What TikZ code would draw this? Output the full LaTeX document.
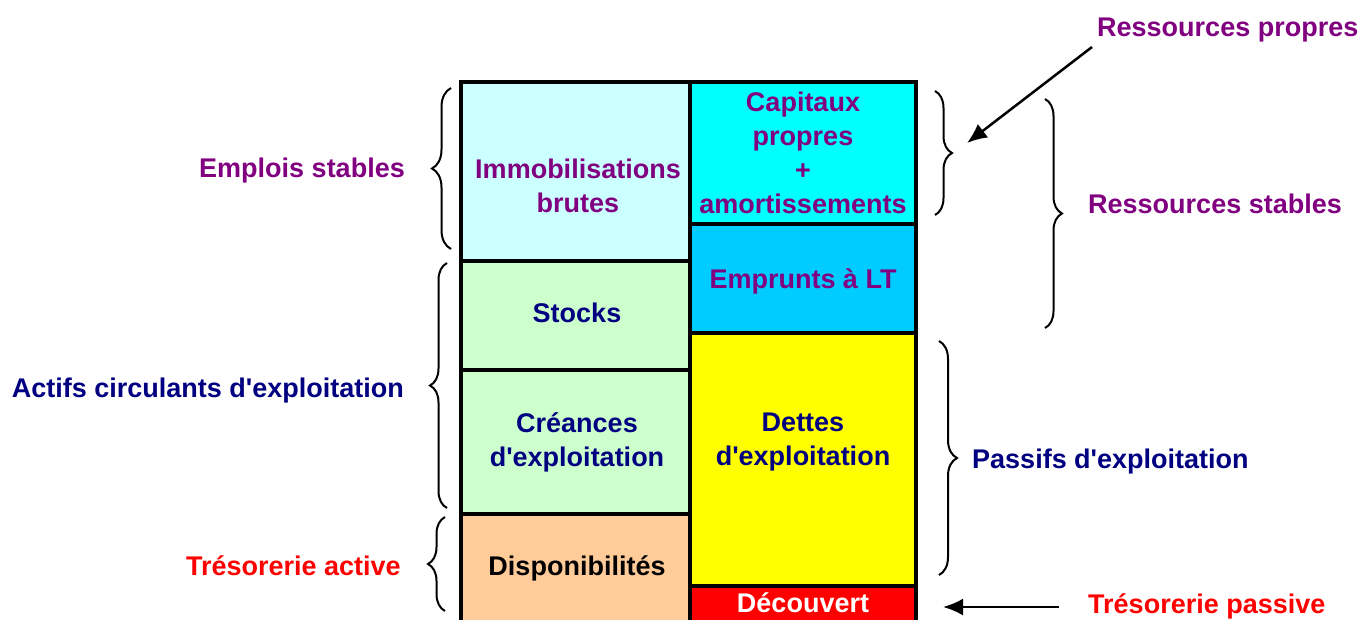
\documentclass[tikz,border=0pt]{standalone}
\usepackage{fontspec}
\setmainfont{Liberation Sans}
\usetikzlibrary{decorations.pathreplacing,arrows.meta}
\definecolor{cimmo}{HTML}{CCFFFF}
\definecolor{ccap}{HTML}{00FFFF}
\definecolor{cemp}{HTML}{00CCFF}
\definecolor{cgreen}{HTML}{CCFFCC}
\definecolor{cdispo}{HTML}{FFCC99}
\definecolor{cyel}{HTML}{FFFF00}
\definecolor{cred}{HTML}{FF0000}
\definecolor{cpurple}{HTML}{800080}
\definecolor{cnavy}{HTML}{000080}
\newcommand{\apos}{\textquotesingle}
\begin{document}
\begin{tikzpicture}[x=1pt,y=-1pt,
  cell/.style={draw=black, line width=3.5pt, inner sep=0pt, outer sep=0pt},
  txt/.style={font=\fontsize{27}{34}\selectfont\bfseries, align=center, inner sep=0pt},
  bracestyle/.style={decorate, decoration={brace, amplitude=#1}, line width=2pt},
  arr/.style={-{Latex[length=20pt,width=17pt]}, line width=2.5pt}]
\useasboundingbox (0,0) rectangle (1367,619);
\begin{scope}
\clip (0,0) rectangle (1367,619);
% left column
\node[cell, fill=cimmo, minimum width=229pt, minimum height=179pt] (imm) at (575.5,171.5) {};
\node[cell, fill=cgreen, minimum width=229pt, minimum height=109pt] (sto) at (575.5,315.5) {};
\node[cell, fill=cgreen, minimum width=229pt, minimum height=144pt] (cre) at (575.5,442) {};
\node[cell, fill=cdispo, minimum width=229pt, minimum height=116pt] (dis) at (575.5,572) {};
% right column
\node[cell, fill=ccap, minimum width=226pt, minimum height=142pt] (cap) at (803,153) {};
\node[cell, fill=cemp, minimum width=226pt, minimum height=109pt] (emp) at (803,278.5) {};
\node[cell, fill=cyel, minimum width=226pt, minimum height=253pt] (det) at (803,459.5) {};
\node[cell, fill=cred, minimum width=226pt, minimum height=44pt] (dec) at (803,608) {};
\end{scope}
% cell texts
\node[txt, text=cpurple] (timm) at (578,186) {Immobilisations\\brutes};
\node[txt, text=cnavy, anchor=base] (tsto) at (577,322) {Stocks};
\node[txt, text=cnavy] (tcre) at (577,442) {Créances\\d\apos exploitation};
\node[txt, text=black, anchor=base] (tdis) at (577,575) {Disponibilités};
\node[txt, text=cpurple] (tcap) at (803,153) {Capitaux\\propres\\+\\amortissements};
\node[txt, text=cpurple, anchor=base] (temp) at (803,288) {Emprunts à LT};
\node[txt, text=cnavy] (tdet) at (803,442) {Dettes\\d\apos exploitation};
\node[txt, text=white, anchor=base] (tdec) at (803,612) {Découvert};
% side labels
\node[txt, text=cpurple, anchor=base east] (lemp) at (405,177) {Emplois stables};
\node[txt, text=cnavy, anchor=base east] (lact) at (404,397) {Actifs circulants d\apos exploitation};
\node[txt, text=cred, anchor=base east] (ltra) at (401,575) {Trésorerie active};
\node[txt, text=cpurple, anchor=base west] (lrp) at (1097,36) {Ressources propres};
\node[txt, text=cpurple, anchor=base west] (lrs) at (1088,213) {Ressources stables};
\node[txt, text=cnavy, anchor=base west] (lpas) at (972,468) {Passifs d\apos exploitation};
\node[txt, text=cred, anchor=base west] (ltrp) at (1088,613) {Trésorerie passive};
% braces
\draw[bracestyle=19pt] (451,249) -- (451,88);
\draw[bracestyle=17pt] (447,508) -- (447,263);
\draw[bracestyle=17pt] (445,611) -- (445,517);
\draw[bracestyle=17pt] (935,91) -- (935,215);
\draw[bracestyle=17pt] (1045,99) -- (1045,328);
\draw[bracestyle=18pt] (939,341) -- (939,575);
% arrows
\coordinate (a1s) at (1092,47);
\coordinate (a1e) at (967,143);
\coordinate (a2s) at (1059,607);
\coordinate (a2e) at (943,607);
\draw[arr] (a1s) -- (a1e);
\draw[arr] (a2s) -- (a2e);
\end{tikzpicture}
\end{document}
